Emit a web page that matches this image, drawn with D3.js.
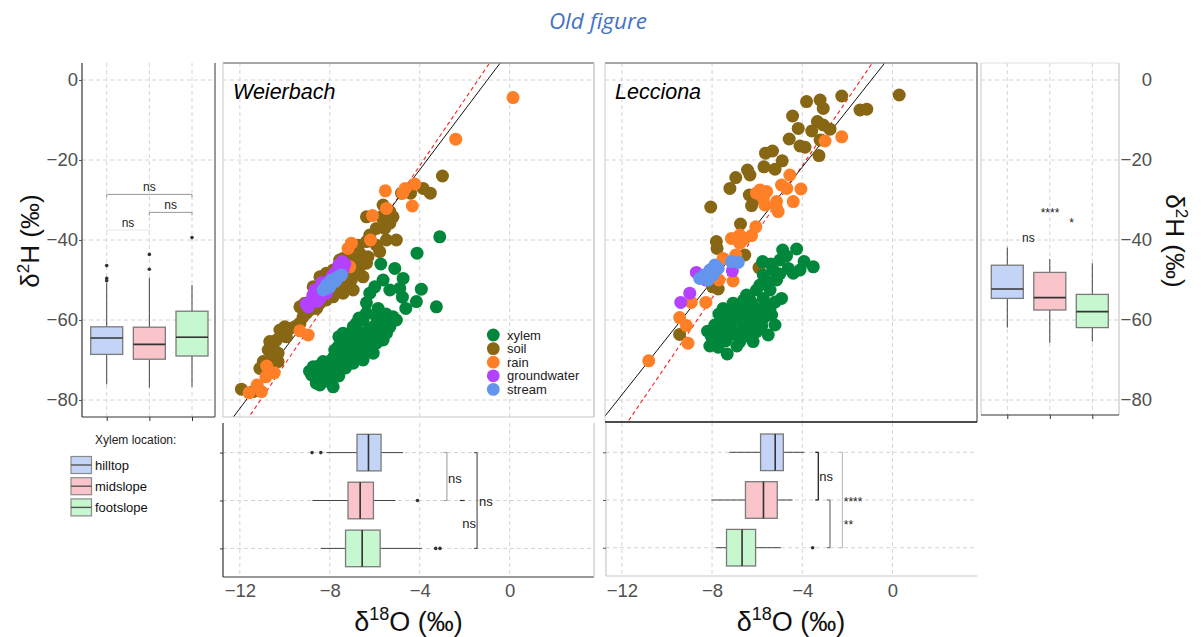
<!DOCTYPE html>
<html><head><meta charset="utf-8">
<script src="https://cdn.jsdelivr.net/npm/d3@7/dist/d3.min.js"></script>
<style>body{margin:0;background:#fff}svg{display:block}text{font-family:"Liberation Sans",Arial,sans-serif}</style>
</head><body><svg id="c" width="1201" height="637"></svg>
<script>
// ---------- data ----------
const locations = ["hilltop","midslope","footslope"];
const locColors = ["#c3d4f7","#f9c5cb","#c6f7cf"];
const groups = ["xylem","soil","rain","groundwater","stream"];
const groupColors = ["#00873c","#876614","#ff7f27","#b341ff","#6495ed"];
const xTicks = [-12,-8,-4,0];
const yTicks = [0,-20,-40,-60,-80];

// Weierbach scatter (d18O, d2H)
const wXylem = [[-3.11,-39.2],[-4.12,-43.3],[-5.73,-46.0],[-5.11,-47.1],[-4.74,-49.6],[-5.63,-50.0],[-6.0,-51.7],[-5.33,-52.5],[-3.93,-52.3],[-4.89,-52.1],[-4.77,-54.3],[-4.15,-55.4],[-3.26,-56.7],[-6.37,-55.7],[-5.85,-57.1],[-4.62,-57.1],[-5.19,-59.2],[-5.63,-60.8],[-5.33,-61.7],[-6.07,-61.7],[-6.52,-60.0],[-6.96,-61.7],[-6.67,-63.3],[-6.22,-64.2],[-5.93,-65.8],[-6.37,-66.7],[-6.81,-65.8],[-7.26,-65.0],[-7.41,-63.3],[-7.63,-66.7],[-7.11,-67.5],[-6.67,-68.3],[-6.96,-70.8],[-7.56,-69.2],[-7.93,-70.0],[-7.70,-72.5],[-8.30,-72.5],[-8.15,-70.8],[-8.74,-71.7],[-8.81,-73.75],[-8.44,-76.25],[-7.85,-76.7],[-6.52,-70.0],[-6.07,-68.3],[-5.63,-65.0],[-5.48,-63.3],[-7.26,-70.0],[-8.0,-74.2],[-8.44,-74.2],[-7.48,-70.8],[-6.81,-60.8],[-6.37,-58.3],[-5.93,-59.2],[-5.04,-60.0],[-7.04,-64.2],[-6.52,-65.0],[-7.78,-67.5],[-8.30,-70.4],[-8.59,-73.3],[-6.22,-53.3],
  [-7.2,-66.5],[-6.9,-67.2],[-6.6,-64.5],[-7.5,-68.0],[-7.8,-69.0],[-8.0,-72.0],[-7.3,-72.0],[-7.0,-69.5],[-6.3,-62.5],[-6.0,-63.0],[-5.7,-62.0],[-6.8,-62.5],[-7.6,-64.2],[-8.5,-71.5],[-8.9,-72.8],[-7.6,-74.0],[-8.2,-75.3],[-6.2,-67.5],[-5.8,-60.5],[-5.5,-58.5],[-6.7,-59.5],[-7.1,-65.5],[-8.6,-75.8],[-7.95,-73.5]];
const wSoil = [[-6.37,-40.4],[-6.74,-41.3],[-5.93,-41.3],[-5.48,-40.0],[-5.04,-40.0],[-5.78,-42.9],[-6.30,-44.2],[-6.67,-43.3],[-6.96,-42.5],[-7.41,-44.6],[-7.56,-46.7],[-7.04,-45.8],[-6.67,-46.7],[-6.37,-45.8],[-6.81,-48.3],[-6.52,-49.2],[-7.04,-50.0],[-7.26,-51.7],[-6.96,-52.5],[-7.41,-53.3],[-7.70,-52.5],[-7.85,-54.2],[-8.15,-55.0],[-8.44,-55.8],[-8.59,-57.1],[-8.89,-57.5],[-9.04,-58.3],[-9.19,-59.2],[-9.33,-60.8],[-9.56,-61.7],[-9.78,-62.1],[-10.0,-61.7],[-10.22,-62.5],[-9.93,-64.2],[-10.37,-65.0],[-10.67,-65.4],[-10.52,-66.7],[-10.74,-67.5],[-10.30,-68.3],[-10.59,-69.2],[-10.96,-70.4],[-10.30,-70.4],[-10.81,-71.7],[-11.11,-72.1],[-10.67,-72.5],[-8.74,-51.7],[-8.44,-49.2],[-8.15,-48.3],[-7.85,-47.5],[-7.56,-45.0],[-7.19,-44.2],[-6.22,-38.75],[-5.93,-37.1],[-5.56,-37.1],[-5.33,-35.8],[-5.19,-34.2],[-5.70,-34.2],[-6.37,-34.2],[-5.63,-31.25],[-4.81,-28.3],[-4.41,-28.3],[-3.85,-27.1],[-3.53,-28.3],[-2.99,-24.0],[-11.93,-77.3],[-11.41,-77.9],[-9.11,-55.8],[-9.33,-56.7],[-8.44,-53.3],[-5.33,-32.9],[-6.96,-48.3],[-6.67,-45.0]];
const wRain = [[0.15,-4.4],[-2.40,-14.8],[-5.53,-27.7],[-4.64,-27.1],[-4.22,-26.0],[-4.76,-28.3],[-4.33,-31.5],[-5.48,-32.1],[-6.10,-33.9],[-6.19,-40.0],[-7.04,-40.8],[-7.19,-42.1],[-7.11,-46.7],[-9.33,-62.7],[-8.96,-63.75],[-10.81,-71.5],[-10.47,-73.2],[-10.84,-74.2],[-11.23,-76.25],[-11.59,-78.2],[-11.04,-77.9]];
const wGround = [[-8.96,-56.7],[-8.81,-55.0],[-8.59,-53.75],[-8.44,-52.5],[-8.67,-52.5],[-8.30,-51.25],[-8.0,-50.0],[-7.78,-48.3],[-7.56,-47.1],[-7.33,-46.0],[-7.41,-47.5],[-8.44,-54.6],[-8.15,-53.3],
  [-8.9,-55.8],[-8.7,-54.8],[-8.55,-55.3],[-8.2,-52.0],[-7.9,-49.0],[-7.6,-46.3],[-7.45,-45.4],[-8.75,-53.8],[-9.05,-56.0],[-8.35,-50.6]];
const wStream = [[-8.15,-51.25],[-7.93,-50.0],[-7.78,-50.4],[-7.63,-49.2],[-7.48,-48.75],[-8.0,-51.7],[-8.30,-52.5],[-8.05,-50.8],[-7.7,-49.8],[-8.2,-52.2]];

// Lecciona scatter
const lXylem = [[-4.87,-42.5],[-4.25,-42.25],[-5.76,-45.4],[-4.99,-45.0],[-3.92,-45.4],[-3.51,-46.7],[-4.62,-47.1],[-5.29,-47.5],[-4.40,-48.3],[-5.73,-48.75],[-5.14,-50.0],[-5.88,-51.25],[-5.43,-52.5],[-4.92,-54.6],[-6.03,-52.5],[-6.47,-53.75],[-6.25,-55.8],[-5.73,-54.6],[-7.07,-55.8],[-7.51,-57.1],[-7.14,-57.9],[-6.77,-58.75],[-6.32,-58.3],[-5.88,-57.5],[-5.43,-57.1],[-5.36,-58.75],[-5.73,-59.6],[-6.18,-60.8],[-6.62,-61.25],[-7.14,-60.4],[-7.58,-59.6],[-7.88,-61.25],[-7.51,-62.1],[-7.07,-62.9],[-6.47,-63.3],[-6.03,-62.9],[-5.21,-61.25],[-5.51,-63.75],[-8.03,-64.2],[-7.66,-65.0],[-7.21,-63.75],[-6.77,-65.4],[-6.18,-65.4],[-8.10,-66.5],[-7.73,-66.8],[-7.33,-68.5],[-6.77,-63.75],[-6.32,-55.0],
  [-6.9,-60.0],[-6.5,-60.0],[-6.0,-59.5],[-5.6,-56.0],[-5.2,-55.5],[-6.1,-57.0],[-6.6,-56.5],[-7.3,-60.8],[-7.9,-63.0],[-7.4,-65.2],[-6.9,-66.5],[-6.4,-64.0],[-5.8,-61.5],[-5.0,-48.5],[-4.7,-44.0],[-5.4,-46.0],[-4.1,-47.5],[-5.5,-50.5],[-6.6,-55.0],[-7.7,-58.5],[-8.2,-62.8],[-7.0,-58.2]];
const lSoil = [[0.30,-3.75],[-2.25,-4.0],[-3.81,-5.4],[-3.21,-5.0],[-3.07,-7.1],[-1.44,-7.5],[-1.14,-7.3],[-4.43,-9.0],[-3.33,-10.4],[-3.07,-11.25],[-2.77,-12.3],[-3.58,-12.75],[-4.18,-12.1],[-4.58,-14.75],[-3.21,-15.0],[-4.10,-16.5],[-3.88,-16.8],[-3.26,-18.9],[-5.63,-18.3],[-5.32,-17.75],[-4.89,-20.2],[-5.70,-21.7],[-5.21,-22.3],[-6.43,-22.5],[-6.32,-23.75],[-6.95,-24.4],[-7.21,-27.1],[-6.35,-28.75],[-6.25,-31.4],[-8.06,-31.75],[-6.74,-36.0],[-7.81,-40.4],[-7.78,-42.1],[-6.55,-43.75],[-5.92,-46.9],[-7.98,-51.7],[-7.73,-52.25],[-9.44,-63.6],[-6.15,-30.0]];
const lRain = [[-2.99,-15.25],[-2.25,-14.2],[-4.55,-23.75],[-4.92,-26.25],[-4.69,-27.1],[-4.06,-27.25],[-5.88,-27.5],[-5.58,-27.9],[-6.03,-28.3],[-5.73,-29.6],[-5.14,-30.4],[-4.40,-30.4],[-5.66,-31.25],[-5.14,-32.1],[-5.07,-32.9],[-6.06,-36.7],[-6.25,-38.9],[-6.55,-39.6],[-6.77,-38.75],[-7.14,-39.6],[-6.77,-40.8],[-7.51,-44.6],[-6.95,-43.75],[-7.69,-50.0],[-7.07,-50.25],[-8.92,-55.6],[-8.28,-55.6],[-9.44,-59.4],[-9.14,-61.4],[-9.07,-65.8],[-10.81,-70.2]];
const lGround = [[-8.70,-48.1],[-8.28,-50.0],[-8.99,-53.3],[-9.39,-55.6],[-7.10,-47.7],[-8.10,-48.3]];
const lStream = [[-8.55,-49.6],[-8.33,-48.75],[-8.10,-47.5],[-7.88,-46.25],[-7.73,-47.1],[-7.95,-48.75],[-7.14,-45.4],[-6.84,-45.6],[-8.18,-50.0],[-8.0,-47.8]];

// reference lines [slope, intercept]: solid black (fitted), dashed red
const wSolidLine = [7.46, 7.41];
const lSolidLine = [7.115, 6.68];
const dashedLine = [8.27, 11.65];

// box stats [lowWhisker, q1, median, q3, highWhisker] per location + outliers
const wH_stats = [[-76.1,-68.6,-64.5,-61.7,-50.8],[-76.9,-69.8,-66.1,-61.8,-49.4],[-76.7,-69.0,-64.3,-57.8,-51.25]];
const wH_out = [[-46.4,-49.6,-50.2],[-43.6,-47.3],[-39.4]];
const lH_stats = [[-61.9,-54.6,-52.25,-46.3,-41.9],[-65.7,-57.5,-54.4,-48.1,-44.75],[-65.4,-61.9,-57.9,-53.6,-45.8]];
const lH_out = [[],[],[]];
const wO_stats = [[-8.15,-6.79,-6.28,-5.72,-4.74],[-8.77,-7.19,-6.65,-6.06,-5.08],[-8.4,-7.3,-6.56,-5.76,-3.91]];
const wO_out = [[-8.79,-8.4],[-4.1],[-3.29,-3.1]];
const lO_stats = [[-7.24,-5.85,-5.2,-4.84,-3.92],[-8.03,-6.52,-5.72,-5.11,-4.43],[-7.84,-7.36,-6.67,-6.07,-4.95]];
const lO_out = [[],[],[-3.54]];

// ---------- drawing ----------
const svg = d3.select("#c");
const GRID = "#d4d4d4", DASH = "4,3";
const yH = d3.scaleLinear().domain([-84.25, 4.25]).range([417, 63]);
const xW = d3.scaleLinear().domain([-12.75, 3.75]).range([223, 594]);
const xL = d3.scaleLinear().domain([-12.75, 3.75]).range([605, 977]);
const xBoxL = d3.scalePoint().domain(locations).range([106.7, 192]);
const xBoxR = d3.scalePoint().domain(locations).range([1007.3, 1092.3]);
const yRowW = d3.scalePoint().domain(locations).range([452.6, 548.4]);
const yRowL = d3.scalePoint().domain(locations).range([452.3, 547.7]);
const colorOf = d3.scaleOrdinal().domain(locations).range(locColors);
const gColor = d3.scaleOrdinal().domain(groups).range(groupColors);

function line(x1,y1,x2,y2,stroke,w,dash){
  const l = svg.append("line").attr("x1",x1).attr("y1",y1).attr("x2",x2).attr("y2",y2)
    .attr("stroke",stroke).attr("stroke-width",w||1);
  if(dash) l.attr("stroke-dasharray",dash);
  return l;
}
function hGrid(x0,x1,scale,vals){ vals.forEach(v=>line(x0,scale(v),x1,scale(v),GRID,1,DASH)); }
function vGrid(y0,y1,scale,vals){ vals.forEach(v=>line(scale(v),y0,scale(v),y1,GRID,1,DASH)); }

// title
svg.append("text").attr("x",598).attr("y",29).attr("text-anchor","middle")
  .style("font-family","'Open Sans',sans-serif").style("font-style","italic").style("font-size","22.5px")
  .attr("fill","#4472c4").text("Old figure");

// ---- left box panel (Weierbach d2H) ----
hGrid(82,215,yH,yTicks); vGrid(63,417,xBoxL,locations);
function vBoxes(xs, stats, outs){
  locations.forEach((loc,i)=>{
    const cx = xs(loc), s = stats[i];
    line(cx,yH(s[0]),cx,yH(s[1]),"#444",1); line(cx,yH(s[3]),cx,yH(s[4]),"#444",1);
    svg.append("rect").attr("x",cx-16).attr("y",yH(s[3])).attr("width",32).attr("height",yH(s[1])-yH(s[3]))
      .attr("fill",colorOf(loc)).attr("stroke","#7a7a7a").attr("stroke-width",1.3);
    line(cx-16,yH(s[2]),cx+16,yH(s[2]),"#333",1.6);
    outs[i].forEach(o=>svg.append("circle").attr("cx",cx).attr("cy",yH(o)).attr("r",1.8).attr("fill","#333"));
  });
}
vBoxes(xBoxL, wH_stats, wH_out);
line(82,63,82,417,"#333",1.2); line(82,417,215,417,"#333",1.2); line(215,63,215,417,"#555",1.2);
svg.append("g").attr("transform","translate(82,0)")
  .call(d3.axisLeft(yH).tickValues(yTicks).tickSize(3).tickPadding(1))
  .call(g=>{g.select(".domain").remove(); g.selectAll("line").attr("stroke","#555");
    g.selectAll("text").style("font-size","18.5px").attr("fill","#505050").style("font-family","'Liberation Sans',Arial,sans-serif");});
svg.append("g").attr("transform","translate(0,417)")
  .call(d3.axisBottom(xBoxL).tickSize(4).tickFormat(""))
  .call(g=>{g.select(".domain").remove(); g.selectAll("line").attr("stroke","#333");});
function bracketH(l1,l2,yv,label,col){
  const x1=xBoxL(l1), x2=xBoxL(l2), y=yH(yv);
  line(x1,y,x2,y,col,1); line(x1,y,x1,y+3,col,1); line(x2,y,x2,y+3,col,1);
  svg.append("text").attr("x",(x1+x2)/2).attr("y",y-3).attr("text-anchor","middle")
    .style("font-size","12px").attr("fill","#222").text(label);
}
bracketH("hilltop","footslope",-28.6,"ns","#999");
bracketH("midslope","footslope",-33.1,"ns","#999");
bracketH("hilltop","midslope",-37.5,"ns","#e6e6e6");
const tl = svg.append("text").attr("transform","translate(39,241) rotate(-90)").attr("text-anchor","middle")
  .style("font-size","26px").attr("fill","#111");
tl.append("tspan").text("δ"); tl.append("tspan").attr("dy",-10).style("font-size","17px").text("2");
tl.append("tspan").attr("dy",10).text("H (‰)");

// ---- scatter panels ----
function scatter(xs, id, x0, x1, yBottom, sets, solid, label){
  hGrid(x0,x1,yH,yTicks); vGrid(63,yBottom,xs,xTicks);
  svg.append("clipPath").attr("id",id).append("rect").attr("x",x0).attr("y",63).attr("width",x1-x0).attr("height",yBottom-63);
  const dom = xs.domain();
  const lg = svg.append("g").attr("clip-path",`url(#${id})`);
  const mk = (p,stroke,w,dash)=>{ const l=lg.append("line")
      .attr("x1",xs(dom[0])).attr("y1",yH(p[0]*dom[0]+p[1])).attr("x2",xs(dom[1])).attr("y2",yH(p[0]*dom[1]+p[1]))
      .attr("stroke",stroke).attr("stroke-width",w); if(dash) l.attr("stroke-dasharray",dash); };
  const pg = svg.append("g").attr("clip-path",`url(#${id})`);
  const order = ["soil","rain","xylem","groundwater","stream"];
  order.forEach(gname=>{
    const data = sets[groups.indexOf(gname)];
    pg.selectAll(null).data(data).enter().append("circle")
      .attr("cx",d=>xs(d[0])).attr("cy",d=>yH(d[1])).attr("r",6.5).attr("fill",gColor(gname));
  });
  mk(dashedLine,"#ff2020",1.1,"4,3");
  mk(solid,"#111",1,null);
  svg.append("text").attr("x",x0+10).attr("y",99).style("font-size","21.5px").style("font-style","italic")
    .attr("fill","#000").text(label);
}
scatter(xW,"cw",223,594,417,[wXylem,wSoil,wRain,wGround,wStream],wSolidLine,"Weierbach");
line(223,63,594,63,"#8a8a8a",1.5); line(223,63,223,417,"#c8c8c8",1); line(594,63,594,417,"#c8c8c8",1.5); line(223,417,594,417,"#c8c8c8",1);
scatter(xL,"cl",605,977,422,[lXylem,lSoil,lRain,lGround,lStream],lSolidLine,"Lecciona");
line(605,63,977,63,"#8a8a8a",1.5); line(605,63,605,422,"#c8c8c8",1); line(977,63,977,422,"#555",1.2); line(605,422,977,422,"#111",1.3);

// scatter legend
groups.forEach((gname,i)=>{
  const y = 335 + i*13.6;
  svg.append("circle").attr("cx",493.3).attr("cy",y).attr("r",6.4).attr("fill",gColor(gname));
  svg.append("text").attr("x",507).attr("y",y).attr("dy","0.35em").style("font-size","13px").attr("fill","#222").text(gname);
});

// ---- right box panel (Lecciona d2H) ----
hGrid(981,1119,yH,yTicks); vGrid(63,415,xBoxR,locations);
vBoxes(xBoxR, lH_stats, lH_out);
line(981,63,981,415,"#c8c8c8",1); line(1119,63,1119,415,"#c8c8c8",1.2); line(981,63,1119,63,"#e0e0e0",1);
line(981,415,1119,415,"#333",1.2);
svg.append("g").attr("transform","translate(0,415)")
  .call(d3.axisBottom(xBoxR).tickSize(4).tickFormat(""))
  .call(g=>{g.select(".domain").remove(); g.selectAll("line").attr("stroke","#333");});
svg.append("g").attr("transform","translate(1152,0)")
  .call(d3.axisLeft(yH).tickValues(yTicks).tickSize(0).tickPadding(0))
  .call(g=>{g.select(".domain").remove();
    g.selectAll("text").style("font-size","18.5px").attr("fill","#505050").style("font-family","'Liberation Sans',Arial,sans-serif");});
svg.append("text").attr("x",1028.3).attr("y",yH(-40.4)).attr("text-anchor","middle").style("font-size","12px").attr("fill","#222").text("ns");
svg.append("text").attr("x",1050).attr("y",yH(-34.3)).attr("text-anchor","middle").style("font-size","12px").attr("fill","#222").text("****");
svg.append("text").attr("x",1071.7).attr("y",yH(-36.8)).attr("text-anchor","middle").style("font-size","12px").attr("fill","#222").text("*");
const tr = svg.append("text").attr("transform","translate(1166,241) rotate(90)").attr("text-anchor","middle")
  .style("font-size","26px").attr("fill","#111");
tr.append("tspan").text("δ"); tr.append("tspan").attr("dy",-10).style("font-size","17px").text("2");
tr.append("tspan").attr("dy",10).text("H (‰)");

// ---- bottom box panels (d18O) ----
function hBoxes(xs, ys, stats, outs){
  locations.forEach((loc,i)=>{
    const cy = ys(loc), s = stats[i];
    line(xs(s[0]),cy,xs(s[1]),cy,"#444",1); line(xs(s[3]),cy,xs(s[4]),cy,"#444",1);
    svg.append("rect").attr("x",xs(s[1])).attr("y",cy-18.3).attr("width",xs(s[3])-xs(s[1])).attr("height",36.6)
      .attr("fill",colorOf(loc)).attr("stroke","#7a7a7a").attr("stroke-width",1.3);
    line(xs(s[2]),cy-18.3,xs(s[2]),cy+18.3,"#333",1.6);
    outs[i].forEach(o=>svg.append("circle").attr("cx",xs(o)).attr("cy",cy).attr("r",1.8).attr("fill","#333"));
  });
}
function xTitle(cx){
  const t = svg.append("text").attr("x",cx).attr("y",631).attr("text-anchor","middle").style("font-size","27px").attr("fill","#111");
  t.append("tspan").text("δ"); t.append("tspan").attr("dy",-11).style("font-size","18px").text("18");
  t.append("tspan").attr("dy",11).text("O (‰)");
}
function xAxisLabels(xs){
  svg.append("g").attr("transform","translate(0,577)")
    .call(d3.axisBottom(xs).tickValues(xTicks).tickSize(0).tickPadding(7))
    .call(g=>{g.select(".domain").remove();
      g.selectAll("text").style("font-size","18.5px").attr("fill","#505050").style("font-family","'Liberation Sans',Arial,sans-serif");});
}
hGrid(223,594,yRowW,locations); vGrid(423,577,xW,xTicks);
hBoxes(xW, yRowW, wO_stats, wO_out);
line(223,423,223,577,"#333",1.2); line(223,577,594,577,"#333",1.2); line(594,423,594,577,"#c8c8c8",1.2);
svg.append("g").attr("transform","translate(223,0)")
  .call(d3.axisLeft(yRowW).tickSize(3).tickFormat(""))
  .call(g=>{g.select(".domain").remove(); g.selectAll("line").attr("stroke","#333");});
xAxisLabels(xW); xTitle(408.5);
function bracketV(xs, ys, l1, l2, xv, col, w){
  const x = xs(xv), y1 = ys(l1), y2 = ys(l2);
  line(x,y1,x,y2,col,w); line(x-3,y1,x,y1,col,w); line(x-3,y2,x,y2,col,w);
}
bracketV(xW,yRowW,"hilltop","midslope",-2.79,"#9a9a9a",1);
bracketV(xW,yRowW,"hilltop","footslope",-1.45,"#555",1.2);
line(xW(-2.22),yRowW("midslope"),xW(-2.0),yRowW("midslope"),"#333",1.2);
svg.append("text").attr("x",xW(-2.74)).attr("y",483).style("font-size","13px").attr("fill","#222").text("ns");
svg.append("text").attr("x",xW(-1.36)).attr("y",505.5).style("font-size","13px").attr("fill","#222").text("ns");
svg.append("text").attr("x",xW(-1.5)).attr("y",528).attr("text-anchor","end").style("font-size","13px").attr("fill","#222").text("ns");

hGrid(606,977,yRowL,locations); vGrid(423,576,xL,xTicks);
hBoxes(xL, yRowL, lO_stats, lO_out);
line(606,423,606,576,"#c8c8c8",1.2); line(606,576,977,576,"#c8c8c8",1.2);
svg.append("g").attr("transform","translate(606,0)")
  .call(d3.axisLeft(yRowL).tickSize(3).tickFormat(""))
  .call(g=>{g.select(".domain").remove(); g.selectAll("line").attr("stroke","#555");});
xAxisLabels(xL); xTitle(791);
bracketV(xL,yRowL,"hilltop","midslope",-3.29,"#111",1.2);
bracketV(xL,yRowL,"midslope","footslope",-2.77,"#666",1.1);
bracketV(xL,yRowL,"hilltop","footslope",-2.22,"#bbb",1.1);
svg.append("text").attr("x",xL(-3.25)).attr("y",481).style("font-size","13px").attr("fill","#222").text("ns");
svg.append("text").attr("x",xL(-2.16)).attr("y",506).style("font-size","12px").attr("fill","#222").text("****");
svg.append("text").attr("x",xL(-2.16)).attr("y",529).style("font-size","12px").attr("fill","#222").text("**");

// ---- xylem location legend ----
svg.append("text").attr("x",95).attr("y",444).style("font-size","12px").attr("fill","#222").text("Xylem location:");
locations.forEach((loc,i)=>{
  const y = 456.5 + i*21.2;
  svg.append("rect").attr("x",71).attr("y",y).attr("width",20.5).attr("height",17).attr("fill",colorOf(loc)).attr("stroke","#8a8a8a").attr("stroke-width",1.2);
  line(71,y+8.5,91.5,y+8.5,"#555",1.4);
  svg.append("text").attr("x",95).attr("y",y+8.5).attr("dy","0.35em").style("font-size","13px").attr("fill","#111").text(loc);
});
</script></body></html>
